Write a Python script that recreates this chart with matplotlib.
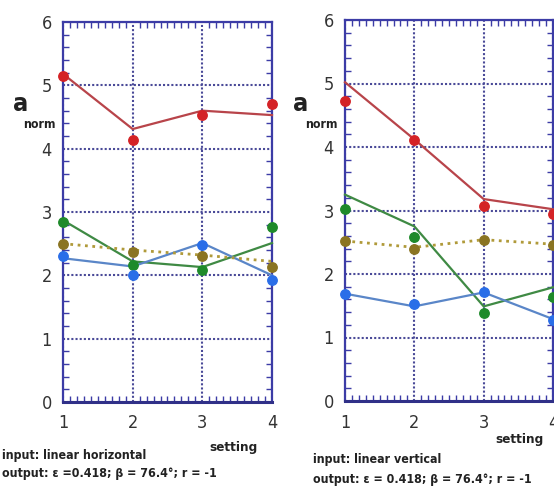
import matplotlib
matplotlib.use("Agg")
import matplotlib.pyplot as plt
from matplotlib import font_manager
from matplotlib.ticker import MultipleLocator

# pick a narrow face if one is around, the reference uses a condensed bold sans
names = {(f.name, str(f.stretch)) for f in font_manager.fontManager.ttflist}
if any(n == 'Liberation Sans Narrow' for n, _ in names):
    FAM, STRETCH, TXT = 'Liberation Sans Narrow', 'normal', 10
elif ('DejaVu Sans', 'condensed') in names or ('DejaVu Sans', '75') in names:
    FAM, STRETCH, TXT = 'DejaVu Sans', 'condensed', 8.9
else:
    FAM, STRETCH, TXT = 'Liberation Sans', 'normal', 8.5

plt.rcParams['font.family'] = [FAM, 'DejaVu Sans']
plt.rcParams['font.stretch'] = STRETCH

# -------------------------------
# Data
# (markers = measured, lines = model)
# -------------------------------
settings = [1, 2, 3, 4]

# left: input linear horizontal
h_red_meas = [5.15, 4.14, 4.53, 4.70]
h_red_fit = [5.18, 4.31, 4.60, 4.53]
h_green_meas = [2.85, 2.16, 2.09, 2.77]
h_green_fit = [2.87, 2.22, 2.13, 2.51]
h_blue_meas = [2.30, 2.00, 2.48, 1.93]
h_blue_fit = [2.27, 2.14, 2.51, 2.00]
h_olive_meas = [2.50, 2.37, 2.31, 2.13]
h_olive_fit = [2.50, 2.40, 2.32, 2.22]

# right: input linear vertical
v_red_meas = [4.72, 4.11, 3.07, 2.94]
v_red_fit = [5.02, 4.12, 3.18, 3.02]
v_green_meas = [3.03, 2.59, 1.39, 1.64]
v_green_fit = [3.25, 2.75, 1.49, 1.79]
v_blue_meas = [1.69, 1.53, 1.71, 1.27]
v_blue_fit = [1.69, 1.49, 1.71, 1.29]
v_olive_meas = [2.52, 2.39, 2.54, 2.45]
v_olive_fit = [2.52, 2.42, 2.54, 2.47]

y_ticks = [0, 1, 2, 3, 4, 5, 6]
x_ticks = [1, 2, 3, 4]

W, H = 554, 501
fig = plt.figure(figsize=(W / 100, H / 100), dpi=100)
fig.patch.set_facecolor('white')

frame_col = '#3c3ca6'
grid_col = '#4a4a98'

styles = [
    # (line colour, marker colour, linestyle)
    ('#b8444a', '#d42226', '-'),
    ('#3f8a44', '#1e8a2a', '-'),
    ('#5a86c8', '#2a6ee8', '-'),
    ('#b09a3a', '#8a7422', ':'),
]


def px_axes(x0, x1, y0, y1):
    return fig.add_axes([x0 / W, 1 - y1 / H, (x1 - x0) / W, (y1 - y0) / H])


def draw_panel(ax, series):
    for (fit, meas), (lc, mc, ls) in zip(series, styles):
        lw = 2.0 if ls == ':' else 1.6
        ax.plot(settings, fit, color=lc, lw=lw, ls=ls, clip_on=False, zorder=3)
        ax.plot(settings, meas, ls='none', marker='o', ms=6.8,
                color=mc, mec=mc, clip_on=False, zorder=4)

    ax.set_xlim(1, 4)
    ax.set_ylim(0, 6)
    ax.set_xticks(x_ticks)
    ax.set_yticks(y_ticks)
    ax.xaxis.set_minor_locator(MultipleLocator(0.1))
    ax.yaxis.set_minor_locator(MultipleLocator(0.2))
    ax.tick_params(which='both', direction='in', top=True, right=True,
                   color=frame_col)
    ax.tick_params(which='major', length=0, labelsize=13, labelcolor='#333333')
    ax.tick_params(axis='x', which='major', pad=9)
    ax.tick_params(axis='y', which='major', pad=8)
    ax.tick_params(which='minor', length=4, width=1)
    ax.grid(True, which='major', color=grid_col, ls=(0, (1, 1)), lw=1.5)
    for s in ax.spines.values():
        s.set_color(frame_col)
        s.set_linewidth(1.6)
    ax.spines['bottom'].set_color('#303088')
    ax.spines['bottom'].set_linewidth(2.2)


ax1 = px_axes(63, 272, 22, 402)
draw_panel(ax1, [(h_red_fit, h_red_meas), (h_green_fit, h_green_meas),
                 (h_blue_fit, h_blue_meas), (h_olive_fit, h_olive_meas)])

ax2 = px_axes(345, 553, 20, 401)
draw_panel(ax2, [(v_red_fit, v_red_meas), (v_green_fit, v_green_meas),
                 (v_blue_fit, v_blue_meas), (v_olive_fit, v_olive_meas)])


def ftext(x, y, s, **kw):
    fig.text(x / W, 1 - y / H, s, **kw)


bold = dict(fontweight='bold', color='#222222')

# y label "a_norm"
ftext(13, 104, 'a', fontsize=18, va='center', ha='left', **bold)
ftext(23, 125, 'norm', fontsize=TXT, va='center', ha='left', **bold)
ftext(293, 104, 'a', fontsize=18, va='center', ha='left', **bold)
ftext(305, 125, 'norm', fontsize=TXT, va='center', ha='left', **bold)

# x label
ftext(234, 448, 'setting', fontsize=TXT + 0.7, va='center', ha='center', **bold)
ftext(519, 439, 'setting', fontsize=TXT + 0.7, va='center', ha='center', **bold)

# captions
ftext(2, 455, 'input: linear horizontal', fontsize=TXT, va='center', ha='left', **bold)
ftext(2, 474, 'output: \u03b5 =0.418; \u03b2 = 76.4\u00b0; r = -1',
      fontsize=TXT, va='center', ha='left', **bold)
ftext(313, 460, 'input: linear vertical', fontsize=TXT, va='center', ha='left', **bold)
ftext(313, 480, 'output: \u03b5 = 0.418; \u03b2 = 76.4\u00b0; r = -1',
      fontsize=TXT, va='center', ha='left', **bold)

fig.savefig('out.png', dpi=100)
